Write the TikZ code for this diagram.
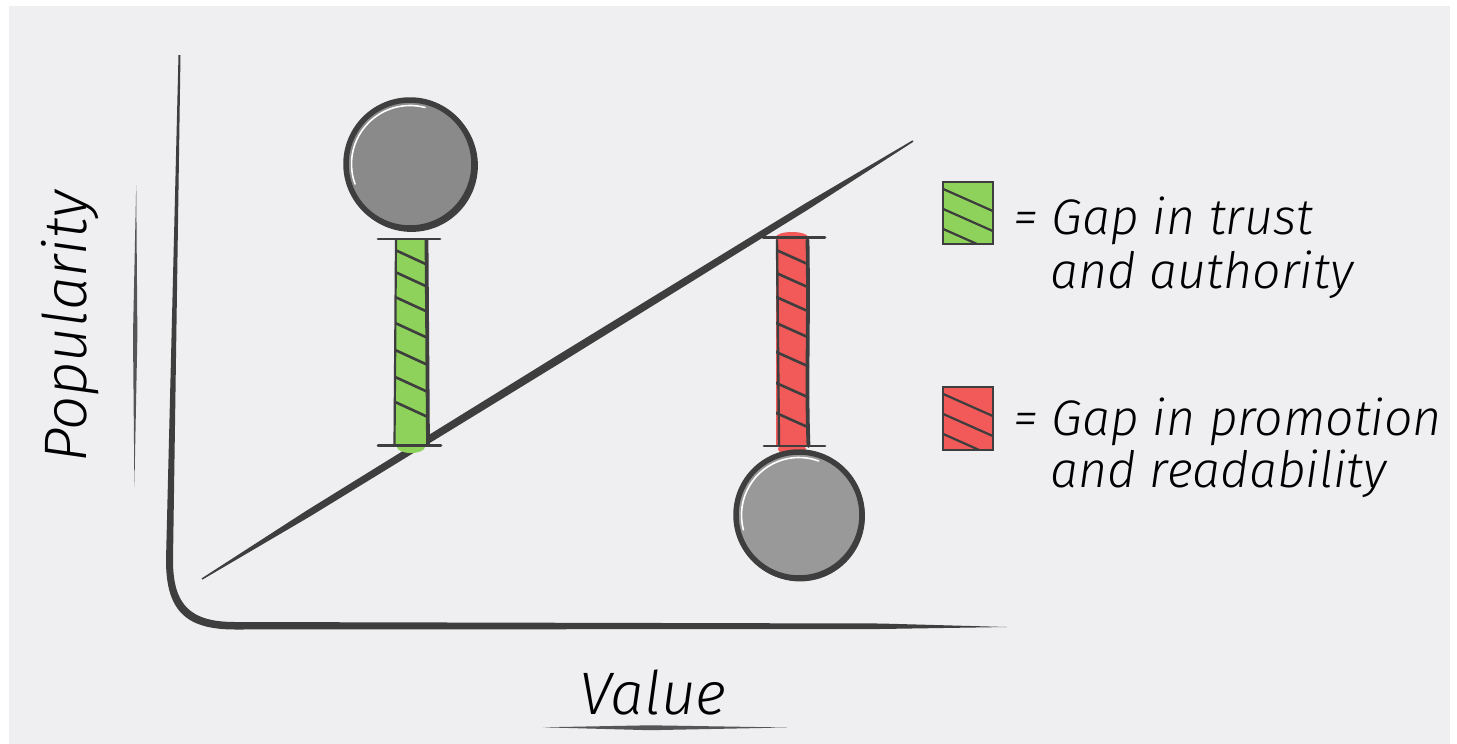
\documentclass[tikz,border=0pt]{standalone}
\usepackage{fontspec}
\newfontfamily\hand{Fira Sans Light Italic}
\definecolor{bg}{HTML}{EFEFF1}
\definecolor{ink}{HTML}{3E3E3E}
\definecolor{ink2}{HTML}{555555}
\definecolor{gbar}{HTML}{8ED25C}
\definecolor{rbar}{HTML}{F25A5A}
\definecolor{ballA}{HTML}{8A8A8A}
\definecolor{ballB}{HTML}{999999}
\tikzset{
  outl/.style={draw=ink, line width=2.6pt, line cap=round},
  hatchln/.style={draw=ink, line width=2.6pt},
  capln/.style={draw=ink, line width=2.8pt, line cap=round},
  ballrim/.style={draw=ink, line width=5.5pt},
  shine/.style={draw=white, line width=1.6pt, line cap=round},
  txt/.style={font=\hand\fontsize{50}{54}\selectfont, text=black, inner sep=0pt, anchor=base west},
}
\begin{document}
\begin{tikzpicture}[x=1pt,y=-1pt]
\useasboundingbox (0,0) rectangle (1457,744);
\fill[white] (0,0) rectangle (1457,744);
\fill[bg] (9,6) rectangle (1450,744);

% axes (tapered stroke)
\fill[ink] (178.5,55) -- (166,560) .. controls (166,610) and (185,629.5) .. (235,629.5)
  -- (880,629) -- (1007,627) -- (880,623.5) -- (235,622)
  .. controls (190,622) and (173,605) .. (173,560) -- (180.5,55) -- cycle;

% diagonal (tapered)
\fill[ink] (201.6,578.4) -- (306.9,510.4) -- (555.4,356.6) -- (804.7,203.8) -- (912.6,140.3)
  -- (913.4,141.7) -- (808.0,209.6) -- (559.6,363.4) -- (310.4,516.2) -- (202.4,579.6) -- cycle;

% axis labels
\node[font=\hand\fontsize{60}{64}\selectfont, rotate=90, inner sep=0pt] (pop) at (70,327) {Popularity};
\fill[ink2] (136.2,185) -- (133,335) -- (134.4,487) -- (137.4,335) -- cycle;
\node[font=\hand\fontsize{60}{64}\selectfont, inner sep=0pt, anchor=base] (val) at (653,714) {Value};
\fill[ink2] (543,727.3) -- (650,725.3) -- (787,727.5) -- (650,730.2) -- cycle;

% ---- green gap bar ----
\fill[gbar] (395,239) rectangle (427,446);
\fill[gbar] (411,447) ellipse (14 and 6);
\begin{scope}
  \clip (395,239) rectangle (427,446);
  \foreach \y in {250,272,297,323,350,377,402}
    \draw[hatchln] (393,\y-1) -- (430,\y+16);
\end{scope}
\draw[outl, line width=2.2pt] (396,240) -- (394.5,445);
\draw[outl, line width=3.8pt] (426.5,240) -- (428,445);
\draw[capln] (378,239) -- (440,239);
\draw[capln] (378,445.5) -- (441,445.5);

% ---- red gap bar ----
\fill[rbar] (776,238) rectangle (809,447);
\fill[rbar] (792,237) ellipse (16 and 5);
\fill[rbar] (792,449) ellipse (14 and 6);
\begin{scope}
  \clip (776,238) rectangle (809,447);
  \foreach \y in {250,273,297,323,352,383,413}
    \draw[hatchln] (774,\y-1) -- (812,\y+16);
\end{scope}
\draw[outl, line width=2.4pt] (777,240) -- (779,446);
\draw[outl, line width=3.8pt] (807.5,240) .. controls (809,330) and (806,380) .. (808.5,446);
\draw[capln] (763,237.5) -- (825,237.5);
\draw[capln] (764,446) -- (825,446);

% ---- balls ----
\fill[ballA] (412,166) circle (65);
\draw[ballrim] (410,164) circle (64);
\draw[ink, line width=1.8pt] (411.5,165.5) circle (65.5);
\draw[shine] (410,164) ++(160:58.5) arc[start angle=160, end angle=285, radius=58.5];
\coordinate (topball) at (410,164);

\fill[ballB] (801,517) circle (63);
\draw[ballrim] (799,515) circle (63);
\draw[ink, line width=1.8pt] (800,516.5) circle (64);
\draw[shine] (799,515) ++(165:57.5) arc[start angle=165, end angle=290, radius=57.5];
\coordinate (botball) at (799,515);

% ---- legend ----
\fill[gbar] (943,182) rectangle (993,244);
\begin{scope}
  \clip (943,182) rectangle (993,244);
  \foreach \y in {188,208,228}
    \draw[hatchln, line width=2.2pt] (941,\y) -- (995,\y+24);
\end{scope}
\draw[draw=ink, line width=2.6pt] (943,182) rectangle (993,244);

\fill[rbar] (943,387) rectangle (993,450);
\begin{scope}
  \clip (943,387) rectangle (993,450);
  \foreach \y in {393,413,433}
    \draw[hatchln, line width=2.2pt] (941,\y) -- (995,\y+24);
\end{scope}
\draw[draw=ink, line width=2.6pt] (943,387) rectangle (993,450);

\node[txt] (l1) at (1013,234) {= Gap in trust};
\node[txt] (l2) at (1050,288) {and authority};
\node[txt] (l3) at (1013,435) {= Gap in promotion};
\node[txt] (l4) at (1050,487) {and readability};
\end{tikzpicture}
\end{document}
